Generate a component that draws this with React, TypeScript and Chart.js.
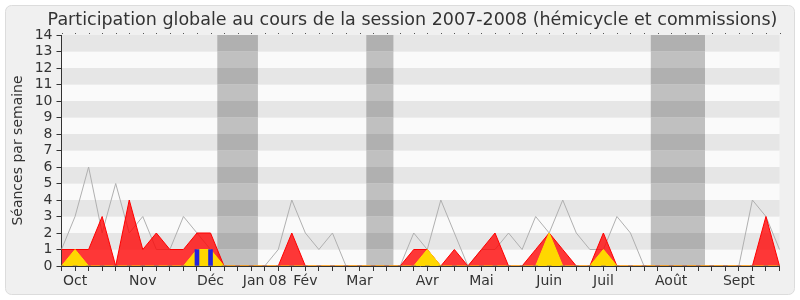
import React, { useEffect, useRef } from "react";
import { Chart, registerables } from "chart.js";

Chart.register(...registerables);

const TITLE = "Participation globale au cours de la session 2007-2008 (hémicycle et commissions)";
const Y_TITLE = "Séances par semaine";

// one entry per week (54 weeks)
const weekLabels: string[] = [
  "", "Oct", "", "", "", "", "Nov", "", "", "", "", "Déc", "", "", "",
  "Jan 08", "", "", "Fév", "", "", "", "Mar", "", "", "", "", "Avr", "", "", "",
  "Mai", "", "", "", "", "Juin", "", "", "", "Juil", "", "", "", "", "Août", "", "", "", "",
  "Sept", "", "", "",
];

const presenceAll: number[] = [
  1, 3, 6, 2, 5, 2, 3, 1, 1, 3, 2, 1, 0, 0, 0,
  0, 1, 4, 2, 1, 2, 0, 0, 0, 0, 0, 2, 1, 4, 2, 0,
  1, 1, 2, 1, 3, 2, 4, 2, 1, 1, 3, 2, 0, 0, 0, 0, 0, 0, 0,
  0, 4, 3, 1,
];

const presenceDepute: number[] = [
  1, 1, 1, 3, 0, 4, 1, 2, 1, 1, 2, 2, 0, 0, 0,
  0, 0, 2, 0, 0, 0, 0, 0, 0, 0, 0, 1, 1, 0, 1, 0,
  1, 2, 0, 0, 1, 2, 1, 0, 0, 2, 0, 0, 0, 0, 0, 0, 0, 0, 0,
  0, 0, 3, 0,
];

const hemicycle: number[] = [
  0, 1, 0, 0, 0, 0, 0, 0, 0, 0, 1, 1, 0, 0, 0,
  0, 0, 0, 0, 0, 0, 0, 0, 0, 0, 0, 0, 1, 0, 0, 0,
  0, 0, 0, 0, 0, 2, 0, 0, 0, 1, 0, 0, 0, 0, 0, 0, 0, 0, 0,
  0, 0, 0, 0,
];

const interventions: number[] = [
  0, 0, 0, 0, 0, 0, 0, 0, 0, 0, 1, 1, 0, 0, 0,
  0, 0, 0, 0, 0, 0, 0, 0, 0, 0, 0, 0, 0, 0, 0, 0,
  0, 0, 0, 0, 0, 0, 0, 0, 0, 0, 0, 0, 0, 0, 0, 0, 0, 0, 0,
  0, 0, 0, 0,
];

// holiday periods, as [first week index, last week index]
const vacationStart: number[] = [12, 23, 44];
const vacationEnd: number[] = [14, 24, 47];

const Y_MAX = 14;

const backgroundPlugin = {
  id: "bgStripes",
  beforeDraw(chart: any) {
    const { ctx, chartArea, scales } = chart;
    const y = scales.y;
    const x = scales.x;
    ctx.save();
    ctx.fillStyle = "#ffffff";
    ctx.fillRect(0, 0, chart.width, chart.height);
    ctx.beginPath();
    ctx.roundRect(5.5, 5.5, 789, 289, 6);
    ctx.fillStyle = "#f0f0f0";
    ctx.fill();
    ctx.strokeStyle = "#dcdcdc";
    ctx.lineWidth = 1;
    ctx.stroke();
    // title
    ctx.fillStyle = "#333333";
    ctx.font = "17.5px 'DejaVu Sans'";
    ctx.textAlign = "center";
    ctx.textBaseline = "alphabetic";
    ctx.fillText(TITLE, 412.5, 25);
    // stripes
    for (let k = 0; k < Y_MAX; k++) {
      const top = y.getPixelForValue(k + 1);
      const bot = y.getPixelForValue(k);
      ctx.fillStyle = k % 2 === 1 ? "#e6e6e6" : "#fafafa";
      ctx.fillRect(chartArea.left, top, chartArea.right - chartArea.left, bot - top);
    }
    // vacations
    const step = x.getPixelForValue(1) - x.getPixelForValue(0);
    for (let v = 0; v < vacationStart.length; v++) {
      const x0 = Math.max(chartArea.left, x.getPixelForValue(vacationStart[v]) - step / 2);
      const x1 = Math.min(chartArea.right, x.getPixelForValue(vacationEnd[v]) + step / 2);
      for (let k = 0; k < Y_MAX; k++) {
        const top = y.getPixelForValue(k + 1);
        const bot = y.getPixelForValue(k);
        ctx.fillStyle = k % 2 === 1 ? "#b0b0b0" : "#c0c0c0";
        ctx.fillRect(x0, top, x1 - x0, bot - top);
      }
    }
    // dotted top marks
    ctx.fillStyle = "#555555";
    for (let i = 0; i < weekLabels.length; i++) {
      const px = Math.round(x.getPixelForValue(i));
      ctx.fillRect(px, chartArea.top - 2, 1, 1);
    }
    ctx.restore();
  },
};

export default function App() {
  const ref = useRef<HTMLCanvasElement | null>(null);
  useEffect(() => {
    document.body.style.margin = "0";
    const canvas = ref.current;
    if (!canvas) return;
    const chart = new Chart(canvas, {
      type: "bar",
      data: {
        labels: weekLabels,
        datasets: [
          {
            type: "bar",
            label: "Interventions",
            data: interventions,
            backgroundColor: "#2222dd",
            barThickness: 4,
            order: 0,
          } as any,
          {
            type: "line",
            label: "Hémicycle",
            data: hemicycle,
            borderColor: "#ffdd00",
            backgroundColor: "#ffd700",
            borderWidth: 1,
            fill: "origin",
            pointRadius: 0,
            tension: 0,
            order: 1,
          },
          {
            type: "line",
            label: "Présence",
            data: presenceDepute,
            borderColor: "#ff0000",
            backgroundColor: "rgba(255,0,0,0.78)",
            borderWidth: 1,
            fill: "origin",
            pointRadius: 0,
            tension: 0,
            order: 2,
          },
          {
            type: "line",
            label: "Total",
            data: presenceAll,
            borderColor: "#b0b0b0",
            borderWidth: 1,
            fill: false,
            pointRadius: 0,
            tension: 0,
            order: 3,
          },
        ],
      },
      options: {
        animation: false,
        responsive: false,
        layout: { padding: { left: 6, right: 20.5, top: 35, bottom: 8 } },
        plugins: {
          legend: { display: false },
          tooltip: { enabled: false },
          title: { display: false },
        },
        scales: {
          x: {
            type: "category",
            offset: false,
            grid: {
              drawOnChartArea: false,
              drawTicks: true,
              tickLength: 5,
              color: "#333333",
              offset: false,
            },
            border: { display: true, color: "#333333" },
            ticks: {
              autoSkip: false,
              maxRotation: 0,
              color: "#333333",
              padding: 2,
              font: { family: "DejaVu Sans", size: 14 },
            },
            afterFit: (s: any) => {
              s.height = 26;
            },
          },
          y: {
            min: 0,
            max: Y_MAX,
            grid: {
              drawOnChartArea: false,
              drawTicks: true,
              tickLength: 5,
              color: "#333333",
            },
            border: { display: true, color: "#333333" },
            ticks: {
              stepSize: 1,
              autoSkip: false,
              color: "#333333",
              padding: 4,
              font: { family: "DejaVu Sans", size: 14 },
            },
            title: {
              display: true,
              text: Y_TITLE,
              color: "#333333",
              font: { family: "DejaVu Sans", size: 14 },
              padding: { top: 4, bottom: 0 },
            },
            afterFit: (s: any) => {
              s.width = 55.5;
            },
          },
        },
      },
      plugins: [backgroundPlugin],
    });
    return () => chart.destroy();
  }, []);
  return <canvas ref={ref} width={800} height={300} style={{ display: "block" }} />;
}
